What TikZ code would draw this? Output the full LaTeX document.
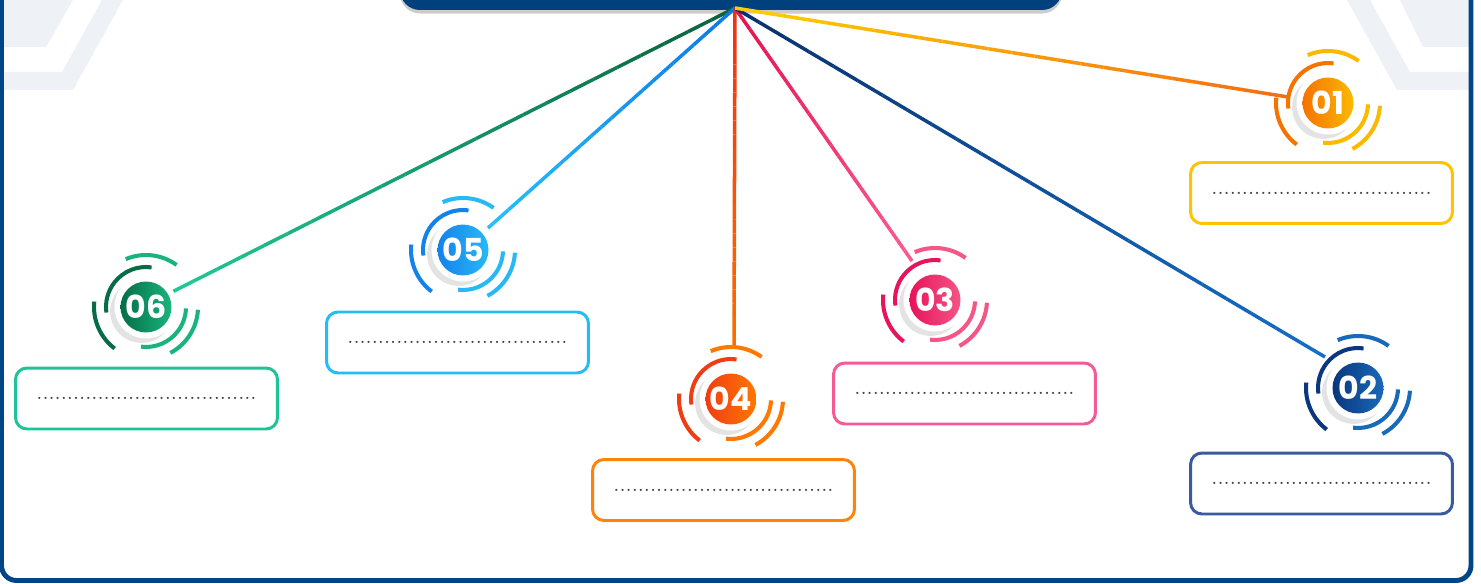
\documentclass[tikz,border=0pt]{standalone}
\usepackage{fontspec}
\newfontfamily\numfont{Poppins}
\usetikzlibrary{shadows,calc}

\definecolor{frameblue}{RGB}{0,70,135}
\definecolor{headblue}{RGB}{0,64,125}
\definecolor{hexgray}{RGB}{238,241,246}
% badge colours
\definecolor{c01a}{RGB}{245,115,0}
\definecolor{c01b}{RGB}{252,185,0}
\definecolor{c02a}{RGB}{10,55,125}
\definecolor{c02b}{RGB}{25,105,185}
\definecolor{c03a}{RGB}{230,20,90}
\definecolor{c03b}{RGB}{245,85,135}
\definecolor{c04a}{RGB}{240,60,20}
\definecolor{c04b}{RGB}{255,120,0}
\definecolor{c05a}{RGB}{20,130,235}
\definecolor{c05b}{RGB}{40,185,245}
\definecolor{c06a}{RGB}{5,110,70}
\definecolor{c06b}{RGB}{25,180,125}
% box colours
\definecolor{box01}{RGB}{255,195,0}
\definecolor{box02}{RGB}{58,90,160}
\definecolor{box03}{RGB}{245,90,150}
\definecolor{box04}{RGB}{255,130,10}
\definecolor{box05}{RGB}{35,190,240}
\definecolor{box06}{RGB}{30,195,150}
% link colours (hub end / badge end)
\definecolor{l01a}{RGB}{255,205,0}
\definecolor{l01b}{RGB}{245,110,20}
\definecolor{l02a}{RGB}{10,50,110}
\definecolor{l02b}{RGB}{20,110,200}
\definecolor{l03a}{RGB}{225,20,80}
\definecolor{l03b}{RGB}{250,90,145}
\definecolor{l04a}{RGB}{240,50,20}
\definecolor{l04b}{RGB}{250,110,0}
\definecolor{l05a}{RGB}{10,120,230}
\definecolor{l05b}{RGB}{40,190,250}
\definecolor{l06a}{RGB}{10,100,60}
\definecolor{l06b}{RGB}{30,200,150}

\newcommand{\dotrow}{....................................}

% gradient connector made of short pieces
\newcommand{\gradlink}[4]{%
  \foreach \k in {0,...,23}{%
    \pgfmathsetmacro{\p}{100-\k*100/23}%
    \pgfmathsetmacro{\s}{\k/24}%
    \pgfmathsetmacro{\q}{(\k+1)/24}%
    \draw[link, color=#3!\p!#4] ($(#1)!\s!(#2)$) -- ($(#1)!\q!(#2)$);
  }}

\tikzset{
  link/.style={line width=2pt},
  arcline/.style={line width=2.3pt},
  ring/.style={circle, fill=white, minimum size=1.26cm, inner sep=0pt,
    drop shadow={shadow xshift=-2.5pt, shadow yshift=-2.5pt, opacity=.22}},
  numdisc/.style={circle, minimum size=1.02cm, inner sep=0pt, text=white,
    font=\numfont\bfseries\fontsize{18}{18}\selectfont},
  infobox/.style={draw, rounded corners=6.5pt, line width=1.7pt, fill=white,
    minimum width=5.24cm, minimum height=1.22cm, text=black!75,
    font=\fontsize{12.8}{13}\selectfont},
  pics/badge/.style n args={3}{code={
    \draw[arcline, #3] (54:1.04cm) arc[start angle=54, end angle=113, radius=1.04cm];
    \draw[arcline, #2] (174:1.04cm) arc[start angle=174, end angle=233, radius=1.04cm];
    \draw[arcline, #3] (298:1.04cm) arc[start angle=298, end angle=357, radius=1.04cm];
    \draw[arcline, #2] (82:0.8cm) arc[start angle=82, end angle=188, radius=0.8cm];
    \draw[arcline, #3] (263:0.8cm) arc[start angle=263, end angle=358, radius=0.8cm];
    \node[ring] {};
    \node[numdisc, left color=#2, right color=#3] (-n) {#1};
  }}
}

\begin{document}
\begin{tikzpicture}[x=0.02cm, y=-0.02cm]
    \useasboundingbox (0,0) rectangle (1481,584);

    % faint hexagon pieces behind
    \fill[hexgray] (3,0) -- (73,0) -- (46,47) -- (3,47) -- cycle;
    \fill[hexgray] (3,72) -- (62,72) -- (102,0) -- (123,0) -- (73,90) -- (3,90) -- cycle;
    \fill[hexgray] (1347,0) -- (1370,0) -- (1410,72) -- (1469,72) -- (1469,90) -- (1397,90) -- cycle;
    \fill[hexgray] (1400,0) -- (1469,0) -- (1469,47) -- (1423,47) -- cycle;

    % frame and title bar
    \draw[frameblue, line width=2.8pt, rounded corners=0.3cm] (1.5,-60) rectangle (1471,580.5);
    \path[fill=headblue, rounded corners=0.4cm, drop shadow={shadow xshift=0pt, shadow yshift=-2pt, opacity=.4}]
        (400,-40) rectangle (1062,10);

    % hub and line ends
    \coordinate (hub) at (735,8);
    \coordinate (e1) at (1288,97);
    \coordinate (e2) at (1325,357);
    \coordinate (e3) at (912,261);
    \coordinate (e4) at (734,346);
    \coordinate (e5) at (488,228);
    \coordinate (e6) at (170,293);

    \gradlink{hub}{e6}{l06a}{l06b}
    \gradlink{hub}{e5}{l05a}{l05b}
    \gradlink{hub}{e4}{l04a}{l04b}
    \gradlink{hub}{e3}{l03a}{l03b}
    \gradlink{hub}{e2}{l02a}{l02b}
    \gradlink{hub}{e1}{l01a}{l01b}

    % badges
    \pic (b1) at (1328,103) {badge={01}{c01a}{c01b}};
    \pic (b2) at (1358,388) {badge={02}{c02a}{c02b}};
    \pic (b3) at (935,300) {badge={03}{c03a}{c03b}};
    \pic (b4) at (731,399) {badge={04}{c04a}{c04b}};
    \pic (b5) at (463,250) {badge={05}{c05a}{c05b}};
    \pic (b6) at (146,307) {badge={06}{c06a}{c06b}};

    % text boxes
    \node[infobox, draw=box01] (t1) at (1321.5,193) {\dotrow};
    \node[infobox, draw=box02] (t2) at (1321.5,483.5) {\dotrow};
    \node[infobox, draw=box03] (t3) at (964.5,393.5) {\dotrow};
    \node[infobox, draw=box04] (t4) at (723.5,490) {\dotrow};
    \node[infobox, draw=box05] (t5) at (457.5,342.5) {\dotrow};
    \node[infobox, draw=box06] (t6) at (146.5,398.5) {\dotrow};
\end{tikzpicture}
\end{document}
